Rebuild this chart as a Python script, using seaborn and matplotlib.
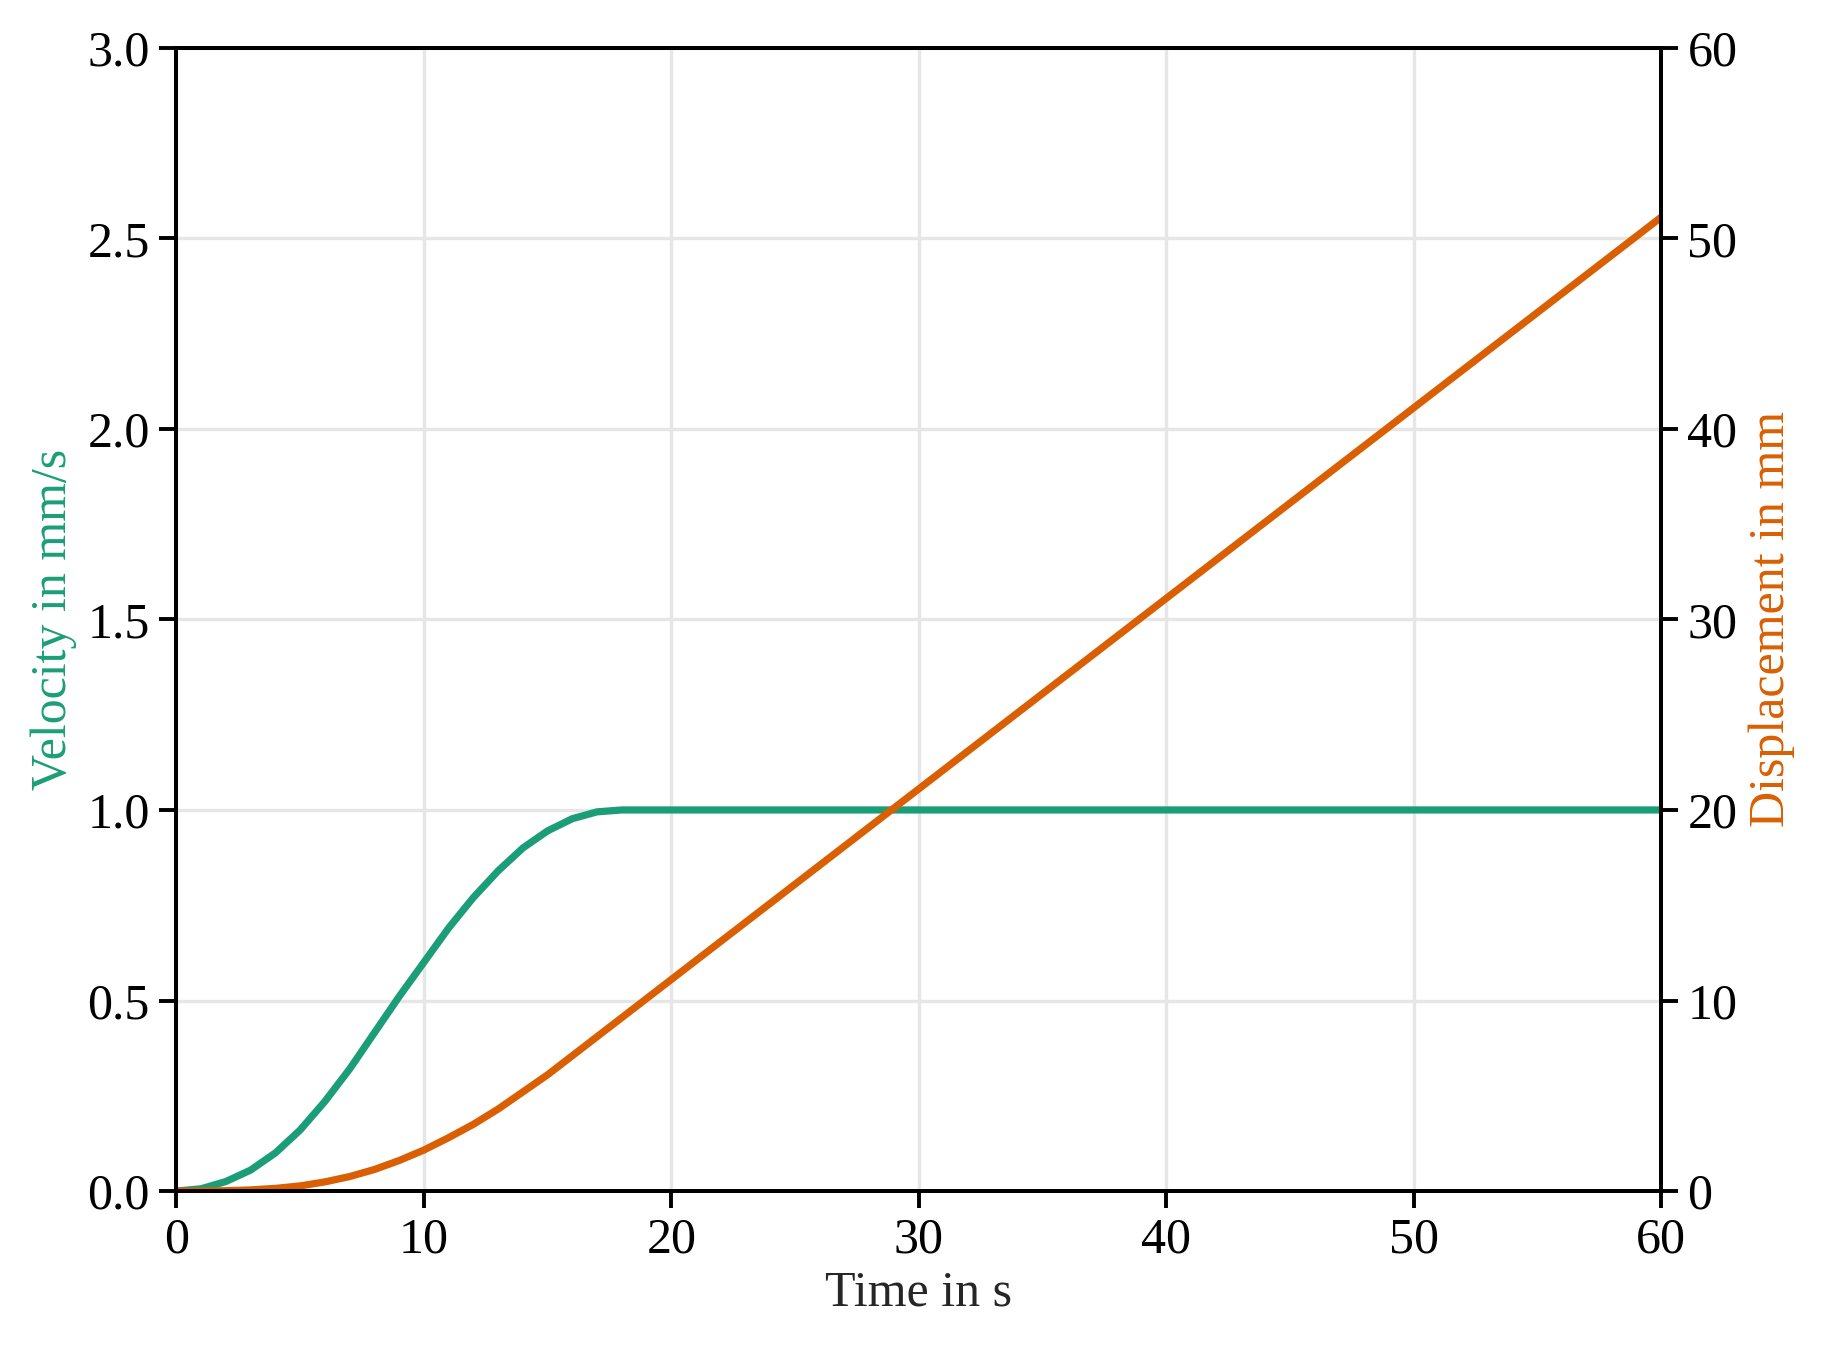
import seaborn as sns
import matplotlib.pyplot as plt
import pandas as pd

sns.set_style('ticks')
plt.rcParams['font.family'] = ['Liberation Serif', 'DejaVu Serif']
plt.rcParams['mathtext.fontset'] = 'stix'
plt.rcParams['text.color'] = 'black'
plt.rcParams['xtick.color'] = 'black'
plt.rcParams['ytick.color'] = 'black'
plt.rcParams['axes.edgecolor'] = 'black'

time = [0, 1, 2, 3, 4, 5, 6, 7, 8, 9, 10, 11, 12, 13, 14, 15, 16, 17, 18, 20, 30, 40, 50, 60]
velocity = [0, 0.006, 0.025, 0.055, 0.1, 0.16, 0.235, 0.32, 0.415, 0.51, 0.6, 0.69, 0.77, 0.84, 0.9, 0.945, 0.977, 0.995, 1.0, 1.0, 1.0, 1.0, 1.0, 1.0]
displacement = [0, 0.002, 0.02, 0.06, 0.14, 0.27, 0.48, 0.76, 1.13, 1.6, 2.15, 2.8, 3.5, 4.3, 5.2, 6.1, 7.1, 8.1, 9.1, 11.1, 21.1, 31.1, 41.1, 51.1]

df = pd.DataFrame({'t': time, 'v': velocity, 's': displacement})
c1, c2 = '#1b9e77', '#d95f02'

fig, ax = plt.subplots(figsize=(1825 / 200, 1346 / 200), dpi=200)
ax2 = ax.twinx()
ax.grid(True, color='#e6e6e6', lw=1.2)
ax.set_axisbelow(True)
sns.lineplot(data=df, x='t', y='v', ax=ax, color=c1, lw=2.6)
sns.lineplot(data=df, x='t', y='s', ax=ax2, color=c2, lw=2.6)

ax.set_xlim(0, 60)
ax.set_ylim(0, 3)
ax2.set_ylim(0, 60)
ax.set_yticks([0, 0.5, 1, 1.5, 2, 2.5, 3])
ax2.set_yticks([0, 10, 20, 30, 40, 50, 60])
ax.set_xlabel('Time in s', fontsize=18, labelpad=2)
ax.set_ylabel('Velocity in mm/s', color=c1, fontsize=18)
ax2.set_ylabel('Displacement in mm', color=c2, fontsize=18)
for a in (ax, ax2):
    a.tick_params(labelsize=18, width=1.4, length=6)
    for sp in a.spines.values():
        sp.set_linewidth(1.4)

fig.tight_layout()
fig.savefig('out.png', dpi=200)
